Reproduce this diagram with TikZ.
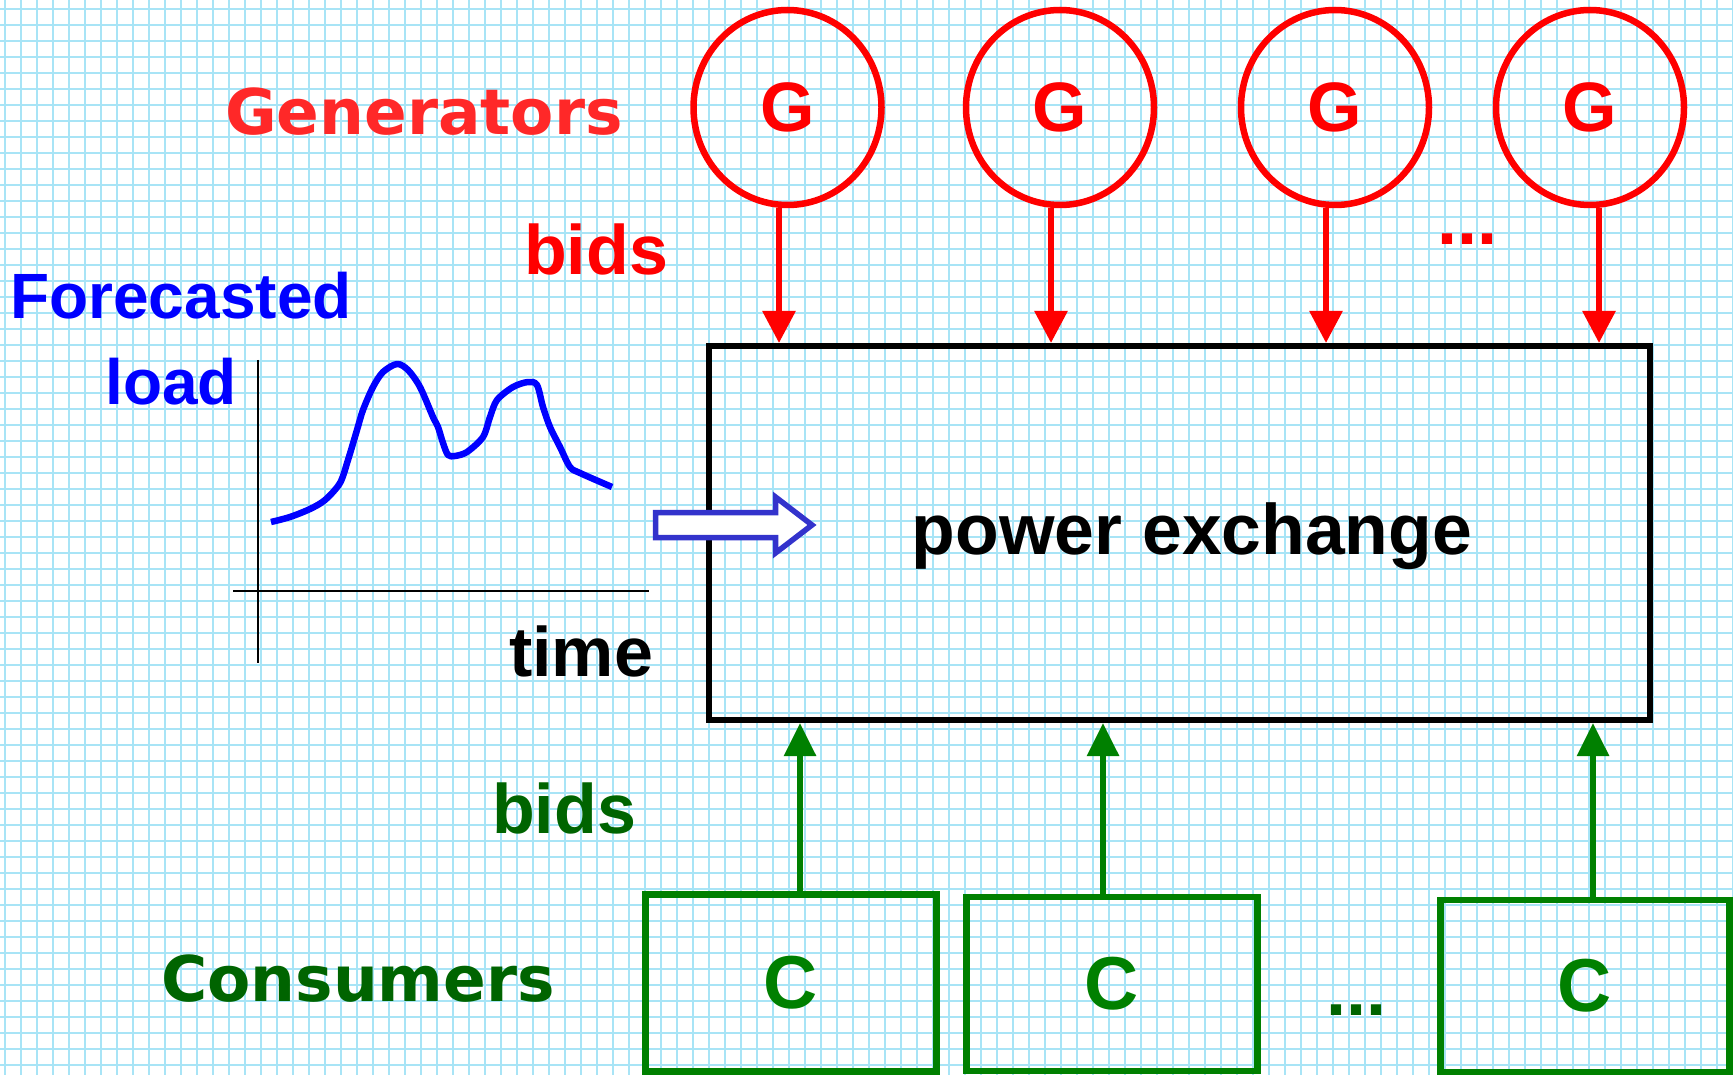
\documentclass[tikz,border=0pt]{standalone}
\usepackage{fontspec}
\setmainfont{Liberation Sans}
\newfontfamily\widefont{DejaVu Sans}
\usetikzlibrary{arrows.meta,shapes.geometric}
\definecolor{gridc}{RGB}{168,228,246}
\definecolor{genred}{RGB}{255,40,40}
\definecolor{cgreen}{RGB}{0,128,0}
\definecolor{dgreen}{RGB}{0,100,0}
\definecolor{arrblue}{RGB}{51,51,204}
\tikzset{
  gridline/.style={gridc, line width=1.6pt},
  gen/.style={ellipse, draw=red, line width=6.5pt, minimum width=188pt, minimum height=195pt, inner sep=0pt, text=red, font=\bfseries\fontsize{70}{74}\selectfont},
  cons/.style={rectangle, draw=cgreen, line width=6.5pt, inner sep=0pt, text=cgreen, font=\bfseries\fontsize{75}{78}\selectfont},
  pebox/.style={rectangle, draw=black, line width=6pt, minimum width=941pt, minimum height=374pt, inner sep=0pt},
  rarrow/.style={red, line width=6pt, -{Triangle[width=32pt,length=32pt]}},
  garrow/.style={cgreen, line width=6pt, -{Triangle[width=31pt,length=33pt]}},
  lbl/.style={anchor=base, inner sep=0pt, font=\bfseries\fontsize{70}{74}\selectfont},
  lblsmall/.style={anchor=base, inner sep=0pt, font=\bfseries\fontsize{64}{68}\selectfont},
  widelbl/.style={anchor=base, inner sep=0pt, font=\widefont\bfseries\fontsize{63}{68}\selectfont},
  dotlbl/.style={anchor=base, inner sep=0pt, font=\bfseries\fontsize{72}{76}\selectfont},
}
\begin{document}
\begin{tikzpicture}[x=1pt,y=-1pt]
\useasboundingbox (0,0) rectangle (1733,1075);
\fill[white] (0,0) rectangle (1733,1075);
\foreach \i in {0,...,108} \draw[gridline] ({5+16*\i},0) -- ({5+16*\i},1075);
\foreach \j in {0,...,66} \draw[gridline] (0,{9+16*\j}) -- (1733,{9+16*\j});

% generators
\node[gen] (g1) at (787.5,107.5) {G};
\node[gen] (g2) at (1060,107.5) {G};
\node[gen] (g3) at (1335,107.5) {G};
\node[gen] (g4) at (1590,107.5) {G};

% power exchange
\node[pebox] (pe) at (1179,533) {};
\node[lbl, text=black, font=\bfseries\fontsize{71.5}{75}\selectfont] (pelabel) at (1192,554) {power exchange};

% consumers
\node[cons, minimum width=291pt, minimum height=177pt] (c1) at (791,983) {C};
\node[cons, minimum width=291pt, minimum height=174pt] (c2) at (1112,984) {C};
\node[cons, minimum width=289pt, minimum height=172pt] (c3) at (1585,986) {C};

% red arrows
\draw[rarrow] ([xshift=-8.5pt]g1.south) -- ([xshift=-8.5pt]g1.south |- pe.north);
\draw[rarrow] ([xshift=-9pt]g2.south) -- ([xshift=-9pt]g2.south |- pe.north);
\draw[rarrow] ([xshift=-9pt]g3.south) -- ([xshift=-9pt]g3.south |- pe.north);
\draw[rarrow] ([xshift=9pt]g4.south) -- ([xshift=9pt]g4.south |- pe.north);

% green arrows
\draw[garrow] ([xshift=9pt]c1.north) -- ([xshift=9pt]c1.north |- pe.south);
\draw[garrow] ([xshift=-9pt]c2.north) -- ([xshift=-9pt]c2.north |- pe.south);
\draw[garrow] ([xshift=8pt]c3.north) -- ([xshift=8pt]c3.north |- pe.south);

% labels
\node[widelbl, text=genred] (genlbl) at (424,135) {Generators};
\node[lbl, text=red] (bidsr) at (596,275) {bids};
\node[dotlbl, text=red] (dotsr) at (1467,245) {...};
\node[lblsmall, text=blue] (fc) at (181,319) {Forecasted};
\node[lblsmall, text=blue] (ld) at (171,404) {load};
\node[lbl, text=black] (tm) at (581,676) {time};
\node[lbl, text=dgreen] (bidsg) at (564,833) {bids};
\node[widelbl, text=dgreen] (conslbl) at (358,1001) {Consumers};
\node[dotlbl, text=dgreen] (dotsg) at (1356,1015) {...};

% load graph axes
\coordinate (yaxtop) at (258,360);
\coordinate (yaxbot) at (258,663);
\coordinate (xaxl) at (233,591);
\coordinate (xaxr) at (649,591);
\draw[black, line width=2.2pt] (yaxtop) -- (yaxbot);
\draw[black, line width=2.2pt] (xaxl) -- (xaxr);

% load curve
\draw[blue, line width=6.5pt, line join=round] plot[smooth, tension=0.5] coordinates {
(271,522) (290,517) (310,509) (325,500) (340,483) (348,460) (357,430) (363,410)
(373,387) (383,372) (397,364) (408,370) (420,387) (433,417) (438,427) (443,443)
(448,455) (455,456) (467,452) (483,437) (490,417) (497,400) (513,387) (528,382)
(537,385) (543,407) (550,427) (560,447) (570,467) (580,473) (612,487)};

% hollow input arrow
\draw[arrblue, line width=5.5pt, fill=white, line join=miter]
  (655.5,512.5) -- (775.5,512.5) -- (775.5,497) -- (812,525) -- (775.5,553) -- (775.5,537.5) -- (655.5,537.5) -- cycle;
\end{tikzpicture}
\end{document}
